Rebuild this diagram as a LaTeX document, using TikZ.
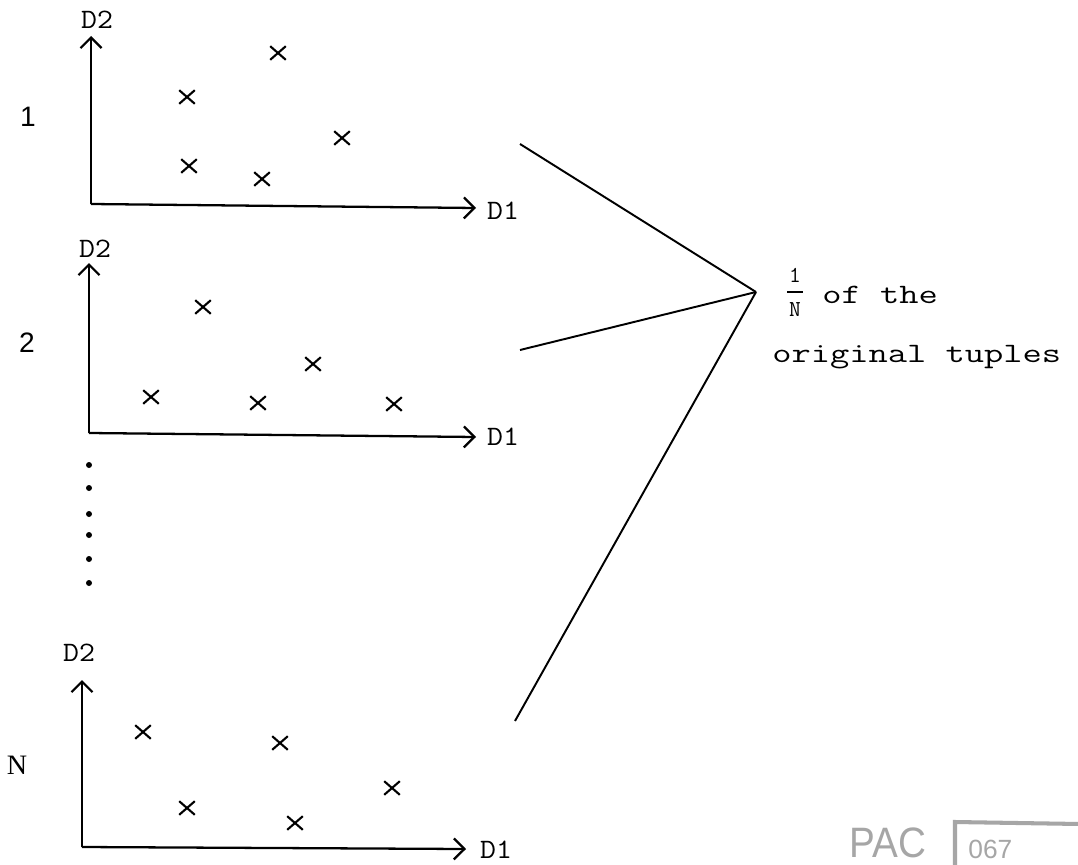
\documentclass[tikz,border=0pt]{standalone}
\usepackage{fontspec}
\usepackage{graphicx}
\newfontfamily\sansf{Liberation Sans}
\newfontfamily\seriff{Liberation Serif}
\usetikzlibrary{arrows.meta,shapes.misc}
\begin{document}
\begin{tikzpicture}[x=0.02cm,y=-0.02cm,
  axisline/.style={line width=1.3pt,-{Straight Barb[length=6pt,width=12pt,line width=1.3pt]}},
  pt/.style={cross out,draw,line width=1.2pt,minimum width=0.27cm,minimum height=0.23cm,inner sep=0pt},
  dlab/.style={inner sep=0pt,font=\fontsize{16}{16}\ttfamily},
  numlab/.style={inner sep=0pt,font=\fontsize{16}{16}\sansf},
  fan/.style={line width=1.1pt},
  dotm/.style={circle,fill,inner sep=0pt,minimum size=0.12cm},
  txt/.style={inner sep=0pt,anchor=west,font=\fontsize{16}{16}\ttfamily},
  fr/.style={inner sep=0pt,font=\fontsize{13}{13}\ttfamily},
  stamp/.style={gray!70}]
\clip (0,0) rectangle (1078,865);
\fill[white] (0,0) rectangle (1078,865);

% panel 1
\coordinate (o1) at (91,204);
\coordinate (y1) at (91,36);
\coordinate (x1) at (476,208);
\draw[axisline] (o1) -- (y1);
\draw[axisline] (o1) -- (x1);
\node[dlab] (d2a) at (97,20) {\scalebox{1.1}[1]{D2}};
\node[dlab] (d1a) at (503,211) {\scalebox{1.1}[1]{D1}};
\node[numlab] (n1) at (28,117) {1};
\node[pt] (p11) at (278,53) {};
\node[pt] (p12) at (187,97) {};
\node[pt] (p13) at (342,138) {};
\node[pt] (p14) at (189,166) {};
\node[pt] (p15) at (262,179) {};

% panel 2
\coordinate (o2) at (89,433);
\coordinate (y2) at (89,263);
\coordinate (x2) at (476,437);
\draw[axisline] (o2) -- (y2);
\draw[axisline] (o2) -- (x2);
\node[dlab] (d2b) at (95,249) {\scalebox{1.1}[1]{D2}};
\node[dlab] (d1b) at (503,437) {\scalebox{1.1}[1]{D1}};
\node[numlab] (n2) at (27,343) {2};
\node[pt] (p21) at (203,307) {};
\node[pt] (p22) at (313,364) {};
\node[pt] (p23) at (151,397) {};
\node[pt] (p24) at (258,403) {};
\node[pt] (p25) at (394,404) {};

% dots
\foreach \yy [count=\i] in {465,488,514,535,559,583}
  \node[dotm] (dot\i) at (89,\yy) {};

% panel N
\coordinate (o3) at (82,847);
\coordinate (y3) at (82,680);
\coordinate (x3) at (466,849);
\draw[axisline] (o3) -- (y3);
\draw[axisline] (o3) -- (x3);
\node[dlab] (d2c) at (79,653) {\scalebox{1.1}[1]{D2}};
\node[dlab] (d1c) at (496,850) {\scalebox{1.1}[1]{D1}};
\node[inner sep=0pt,font=\fontsize{16}{16}\seriff] (nN) at (17,765) {N};
\node[pt] (p31) at (143,732) {};
\node[pt] (p32) at (280,743) {};
\node[pt] (p33) at (392,788) {};
\node[pt] (p34) at (187,808) {};
\node[pt] (p35) at (295,823) {};

% fan
\coordinate (apex) at (756,292);
\coordinate (f1) at (520,144);
\coordinate (f2) at (520,350);
\coordinate (f3) at (515,721);
\draw[fan] (f1) -- (apex);
\draw[fan] (f2) -- (apex);
\draw[fan] (f3) -- (apex);

% text
\node[fr] (fnum) at (795,275) {1};
\node[fr] (fden) at (795,310) {N};
\coordinate (fbl) at (787,292);
\coordinate (fbr) at (803,292);
\draw[line width=0.7pt] (fbl) -- (fbr);
\node[txt] (ofthe) at (822,295) {\scalebox{1.33}[1]{of the}};
\node[txt] (orig) at (772,357) {\scalebox{1.33}[1]{original tuples}};

% stamp
\node[stamp,inner sep=0pt,anchor=base west,font=\fontsize{22}{22}\sansf] (pac) at (849,857) {\scalebox{1}[1.1]{PAC}};
\draw[stamp,line width=2.3pt] (955,870) -- (955,822) -- (1080,824);
\node[stamp,inner sep=0pt,anchor=base west,font=\fontsize{15}{15}\sansf] (num) at (968,858) {067};
\end{tikzpicture}
\end{document}
